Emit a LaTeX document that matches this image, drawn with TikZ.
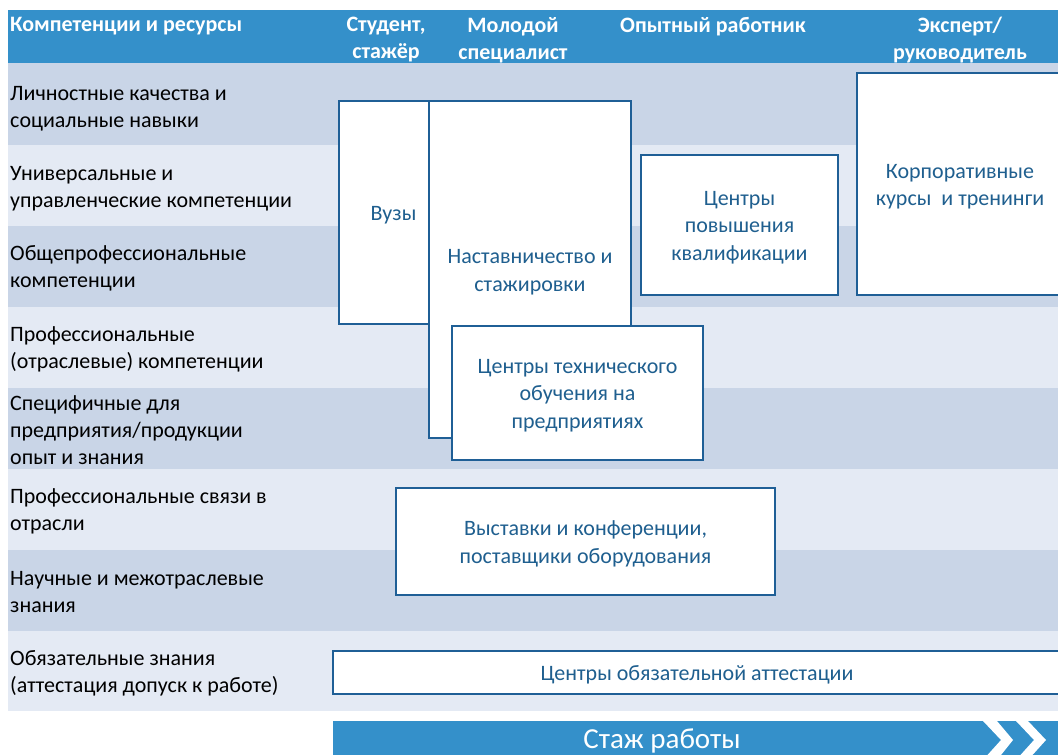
\documentclass[tikz,border=0pt]{standalone}
\usepackage{fontspec}
\setmainfont{Carlito}
\definecolor{hdr}{HTML}{3490CA}
\definecolor{rowdark}{HTML}{C9D5E7}
\definecolor{rowlight}{HTML}{E4EAF4}
\definecolor{boxline}{HTML}{1F5F96}
\definecolor{boxtext}{HTML}{1F5F8F}
\tikzset{
  hdrtext/.style={text=white, font=\fontsize{22}{27}\selectfont\bfseries, align=center, inner sep=0pt},
  lbl/.style={anchor=west, align=left, inner sep=0pt, text=black, font=\fontsize{22}{27}\selectfont},
  stagebox/.style={draw=boxline, line width=1.8pt, fill=white, inner sep=0pt},
  boxlabel/.style={align=center, inner sep=0pt, text=boxtext, font=\fontsize{22}{27.5}\selectfont},
}
\newcommand{\boxat}[6]{% name, x1, y1, x2, y2, text
  \node[stagebox, minimum width=#4pt-#2pt, minimum height=#5pt-#3pt] (#1) at ({(#2+#4)/2},{(#3+#5)/2}) {};
  \node[boxlabel] (#1t) at ([yshift=-2.5pt]#1.center) {#6};}
\begin{document}
\begin{tikzpicture}[x=1pt,y=-1pt]
\useasboundingbox (0,0) rectangle (1058,755);
\clip (0,0) rectangle (1058,755);
% header band
\fill[hdr] (8,10) rectangle (1058,63);
% rows
\fill[rowdark]  (8,63)  rectangle (1058,145);
\fill[rowlight] (8,145) rectangle (1058,226);
\fill[rowdark]  (8,226) rectangle (1058,307);
\fill[rowlight] (8,307) rectangle (1058,388);
\fill[rowdark]  (8,388) rectangle (1058,469);
\fill[rowlight] (8,469) rectangle (1058,550);
\fill[rowdark]  (8,550) rectangle (1058,631);
\fill[rowlight] (8,631) rectangle (1058,711);
% header texts
\node[hdrtext, anchor=west] (h0) at (10,26.5) {Компетенции и ресурсы};
\node[hdrtext] (h1) at (386,40) {Студент,\\стажёр};
\node[hdrtext] (h2) at (513,40) {Молодой\\специалист};
\node[hdrtext] (h3) at (713,26.5) {Опытный работник};
\node[hdrtext] (h4) at (960,40) {Эксперт/\\руководитель};
% row labels
\node[lbl] (r1) at (10,108.5) {Личностные качества и\\социальные навыки};
\node[lbl] (r2) at (10,189) {Универсальные и\\управленческие компетенции};
\node[lbl] (r3) at (10,268.5) {Общепрофессиональные\\компетенции};
\node[lbl] (r4) at (10,349.5) {Профессиональные\\(отраслевые) компетенции};
\node[lbl] (r5) at (10,430.5) {Специфичные для\\предприятия/продукции\\опыт и знания};
\node[lbl] (r6) at (10,511.5) {Профессиональные связи в\\отрасли};
\node[lbl] (r7) at (10,592.5) {Научные и межотраслевые\\знания};
\node[lbl] (r8) at (10,673.5) {Обязательные знания\\(аттестация допуск к работе)};
% boxes
\boxat{vuz}{339}{101}{448}{324}{Вузы}
\boxat{nast}{429}{101}{631}{438}{Наставничество и\\стажировки}
\boxat{tech}{452}{326}{703}{460}{Центры технического\\обучения на\\предприятиях}
\boxat{pov}{641}{155}{838}{295}{Центры\\повышения\\квалификации}
\boxat{korp}{857}{73}{1063}{295}{Корпоративные\\курсы \ и тренинги}
\boxat{vyst}{396}{488}{775}{595}{Выставки и конференции,\\поставщики оборудования}
\boxat{att}{333}{651}{1061}{694}{Центры обязательной аттестации}
% experience arrow
\fill[hdr] (333,721) rectangle (1058,760);
\fill[white] (983,721) -- (997,721) -- (1013,740) -- (997,760) -- (983,760) -- (1001,740) -- cycle;
\fill[white] (1016,721) -- (1028,721) -- (1046,740) -- (1028,760) -- (1016,760) -- (1034,740) -- cycle;
\node[text=white, font=\fontsize{29}{32}\selectfont, inner sep=0pt] (stazh) at (662,741) {Стаж работы};
\end{tikzpicture}
\end{document}
